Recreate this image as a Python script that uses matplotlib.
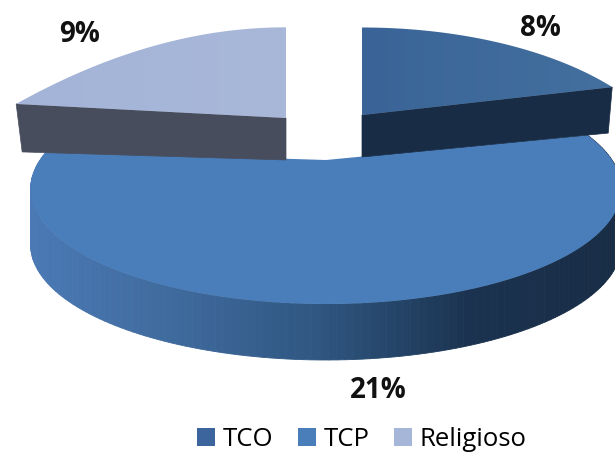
import numpy as np
import matplotlib
matplotlib.use("Agg")
import matplotlib.pyplot as plt
from matplotlib.patches import Polygon, Patch
from matplotlib.colors import LinearSegmentedColormap

categories = ["TCO", "TCP", "Religioso"]
values = [8, 21, 9]
labels = ["8%", "21%", "9%"]
top_colors = [("#3a6497", "#43709f"), ("#4a7ebb", "#4b7fbc"), ("#a3b4d8", "#a9b8d9")]
legend_colors = ["#3b659c", "#4a7ebb", "#a6b6d9"]
side_colors = ["#182c45", None, "#474d5c"]
rim_stops = ["#4a79b4", "#3f6a9d", "#2f5680", "#1b3350", "#182c45"]

# per-slice projection: apex x, apex y, half width, half height, perspective, depth dx at cut, depth
geom = [
    dict(cx=362, cy=115, a=286, b=126, k=0.44, dep=42, dep2=46, dx=-4),
    dict(cx=326, cy=160, a=286, b=108, k=0.25, dep=56, dep2=56, dx=0),
    dict(cx=286, cy=118, a=294, b=185, k=1.04, dep=42, dep2=48, dx=6),
]

fig = plt.figure(figsize=(6.15, 4.57), dpi=100)
ax = fig.add_axes([0, 0, 1, 1])
ax.set_xlim(0, 615)
ax.set_ylim(457, 0)
ax.axis("off")

total = sum(values)
edges = np.concatenate([[0], np.cumsum(values)]) / total * 2 * np.pi


def project(theta, g):
    u, v = np.sin(theta), np.cos(theta)
    s = 1 / (1 + g["k"] * v)
    return g["cx"] + g["a"] * u * s, g["cy"] - g["b"] * v * s


def grad_fill(poly_xy, c0, c1, z):
    cm = LinearSegmentedColormap.from_list("g", [c0, c1])
    grad = np.linspace(0, 1, 64).reshape(1, -1)
    x0, x1 = poly_xy[:, 0].min(), poly_xy[:, 0].max()
    y0, y1 = poly_xy[:, 1].min(), poly_xy[:, 1].max()
    im = ax.imshow(grad, cmap=cm, extent=[x0, x1, y1, y0], aspect="auto", zorder=z)
    clip = Polygon(poly_xy, closed=True, transform=ax.transData, fc="none", ec="none")
    ax.add_patch(clip)
    im.set_clip_path(clip)


order = [1, 0, 2]
for i in order:
    g = geom[i]
    th = np.linspace(edges[i], edges[i + 1], 160)
    x, y = project(th, g)
    if i == 1:
        cm = LinearSegmentedColormap.from_list("rim", rim_stops)
        for j in range(len(th) - 1):
            c = cm(np.clip((x[j] - 30) / 590, 0, 1))
            q = [(x[j], y[j]), (x[j + 1], y[j + 1]),
                 (x[j + 1], y[j + 1] + g["dep"]), (x[j], y[j] + g["dep"])]
            ax.add_patch(Polygon(q, closed=True, fc=c, ec=c, lw=0.6, zorder=1))
    else:
        end = x[-1] if i == 0 else x[0]
        eny = y[-1] if i == 0 else y[0]
        q = [(g["cx"], g["cy"]), (end, eny),
             (end + g["dx"], eny + g["dep2"]), (g["cx"], g["cy"] + g["dep"])]
        ax.add_patch(Polygon(q, closed=True, fc=side_colors[i], ec=side_colors[i],
                             lw=0.5, zorder=3))
    poly = np.column_stack([np.r_[g["cx"], x], np.r_[g["cy"], y]])
    grad_fill(poly, top_colors[i][0], top_colors[i][1], 2 if i == 1 else 4)

ax.set_xlim(0, 615)
ax.set_ylim(457, 0)

font = "Open Sans"
pos = [(540, 29), (378, 390), (80, 35)]
for lab, p in zip(labels, pos):
    ax.text(p[0], p[1], lab, ha="center", va="center", fontsize=20,
            fontweight="bold", family=font, color="#111111", zorder=6)

handles = [Patch(fc=c, ec="none", label=n) for c, n in zip(legend_colors, categories)]
leg = ax.legend(handles=handles, ncol=3, loc="lower center", bbox_to_anchor=(0.588, -0.018),
                frameon=False, handlelength=0.7, handleheight=0.7,
                handletextpad=0.3, columnspacing=0.95, borderpad=0,
                prop={"family": font, "size": 18.5})
fig.savefig("out.png", dpi=100)
